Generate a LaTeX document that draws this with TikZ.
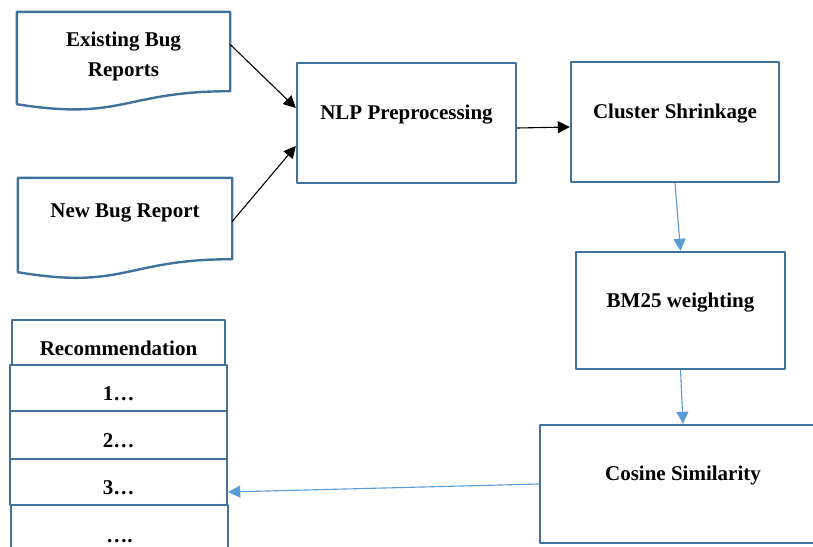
\documentclass[tikz,border=0pt]{standalone}
\usepackage{fontspec}
\setmainfont{Liberation Serif}
\usetikzlibrary{arrows.meta}
\definecolor{boxblue}{RGB}{65,113,156}
\definecolor{lineblue}{RGB}{91,155,213}
\tikzset{
  box/.style={draw=boxblue, line width=2.4pt, text height=14pt, text depth=21pt},
  doc/.style={inner sep=0pt},
  rec/.style={draw=boxblue, line width=2.4pt, minimum width=217pt, text height=27pt, text depth=2pt},
  blk/.style={-{Triangle[length=12pt,width=12pt]}, line width=1.1pt, black},
  blu/.style={-{Triangle[length=12pt,width=12pt]}, line width=1.1pt, lineblue},
}
\begin{document}
\begin{tikzpicture}[x=1pt, y=-1pt, font=\fontsize{21}{30}\selectfont\bfseries, line join=round]
		\useasboundingbox (0,0) rectangle (813,546);
		% input documents, wavy bottom drawn by hand
		\node[doc, minimum width=213pt, minimum height=89pt, align=center] (ex) at (123.5,56.5) {Existing Bug\\Reports};
		\node[doc, minimum width=214pt, minimum height=81pt, text height=14pt, text depth=17pt] (nb) at (125,218.5) {New Bug Report};
		\draw[boxblue, line width=2.4pt] (ex.north west) -- (ex.north east) -- ([yshift=10pt]ex.south east)
		.. controls ([yshift=10pt]ex.south) and ([yshift=-20pt]ex.south) .. ([yshift=-3pt]ex.south west) -- cycle;
		\draw[boxblue, line width=2.4pt] (nb.north west) -- (nb.north east) -- (nb.south east)
		.. controls (nb.south) and ([yshift=-31pt]nb.south) .. ([yshift=-13pt]nb.south west) -- cycle;
		% processing steps
		\node[box, minimum width=219pt, minimum height=120pt] (nlp) at (406.5,123) {NLP Preprocessing};
		\node[box, minimum width=208pt, minimum height=120pt] (cl) at (675,122) {Cluster Shrinkage};
		\node[box, minimum width=209pt, minimum height=117pt] (bm) at (680.5,310.5) {BM25 weighting};
		\node[box, minimum width=286pt, minimum height=118pt] (cs) at (683,484) {Cosine Similarity};
		% result list
		\node[rec, minimum width=213pt, minimum height=45pt] (rh) at (118.5,342.5) {Recommendation};
		\node[rec, minimum height=46pt] (r1) at (118.5,388) {1…};
		\node[rec, minimum height=48pt] (r2) at (118.5,435) {2…};
		\node[rec, minimum height=46pt] (r3) at (118.5,482) {3…};
		\node[rec, minimum height=50pt] (r4) at (119.5,530) {….};
		% connectors
		\draw[blk] ([yshift=12pt]ex.east) -- ([yshift=15pt]nlp.west);
		\draw[blk] ([yshift=-3pt]nb.east) -- ([yshift=-23pt]nlp.west);
		\draw[blk] ([yshift=-5pt]nlp.east) -- ([yshift=-5pt]cl.west);
		\draw[blu] (cl.south) -- (bm.north);
		\draw[blu] (bm.south) -- (cs.north);
		\draw[blu] (cs.west) -- ([yshift=-10pt]r3.east);
	\end{tikzpicture}
\end{document}
